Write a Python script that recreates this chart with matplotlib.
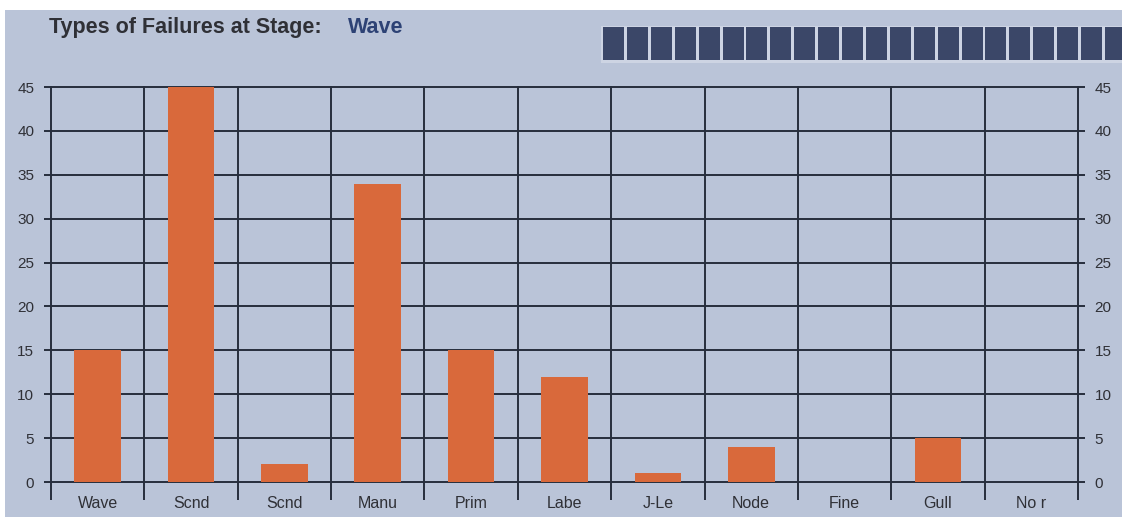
import matplotlib
matplotlib.use("Agg")
import matplotlib.pyplot as plt
from matplotlib.patches import Rectangle
import numpy as np

# Failure counts per failure type
categories = ["Wave", "Scnd", "Scnd", "Manu", "Prim", "Labe", "J-Le", "Node", "Fine", "Gull", "No r"]
failures = [15, 45, 2, 34, 15, 12, 1, 4, 0, 5, 0]
y_ticks = [0, 5, 10, 15, 20, 25, 30, 35, 40, 45]
title_text = "Types of Failures at Stage:"
stage_name = "Wave"
progress_blocks = 22

BG = "#bac4d8"
BAR = "#d9693b"
GRID = "#262d3c"
BLOCK = "#3b4768"
TRACK = "#cdd4e3"
TEXT = "#2f3036"
STAGE = "#2d4275"

W, H = 1122, 522
fig = plt.figure(figsize=(W / 100, H / 100), dpi=100)
fig.patch.set_facecolor("white")

# grey-blue panel behind everything
fig.patches.append(Rectangle((5 / W, 5 / H), 1, (H - 10 - 5) / H,
                             transform=fig.transFigure, facecolor=BG,
                             edgecolor="none", zorder=0))

# progress indicator: light track with dark blocks
fig.patches.append(Rectangle((601 / W, 1 - 63 / H), (W - 601) / W, 37 / H,
                             transform=fig.transFigure, facecolor=TRACK,
                             edgecolor="none", zorder=1))
for i in range(progress_blocks):
    x0 = 603 + i * 23.9
    fig.patches.append(Rectangle((x0 / W, 1 - 60 / H), 21 / W, 33 / H,
                                 transform=fig.transFigure, facecolor=BLOCK,
                                 edgecolor="none", zorder=2))

fig.text(49 / W, 1 - 33 / H, title_text, fontsize=15.5, fontweight="bold",
         color=TEXT, family="Liberation Sans", va="baseline", ha="left")
fig.text(348 / W, 1 - 33 / H, stage_name, fontsize=15.5, fontweight="bold",
         color=STAGE, family="Liberation Sans", va="baseline", ha="left")

ax = fig.add_axes([51 / W, 1 - 482 / H, (1078 - 51) / W, (482 - 87) / H])
ax.set_facecolor("none")
ax.set_zorder(2)

x = np.arange(len(categories))
ax.bar(x, failures, width=0.5, color=BAR, zorder=3)

ax.set_xlim(-0.5, len(categories) - 0.5)
ax.set_ylim(0, 45)

for s in ax.spines.values():
    s.set_visible(False)

# category labels at centres, boundary lines as minor ticks/grid
ax.set_xticks(x, categories)
ax.set_xticks(np.arange(-0.5, len(categories)), minor=True)
ax.tick_params(axis="x", which="major", length=0, pad=10, labelsize=11.5,
               labelcolor=TEXT)
ax.tick_params(axis="x", which="minor", length=13, width=1.4, color=GRID,
               direction="out")
for lab in ax.get_xticklabels():
    lab.set_family("Liberation Sans")

ax.set_yticks(y_ticks)
ax.tick_params(axis="y", which="major", left=True, right=True,
               labelleft=True, labelright=True, length=5, width=1.4,
               color=GRID, labelsize=11, labelcolor=TEXT, pad=7)
for lab in ax.get_yticklabels():
    lab.set_family("Liberation Sans")

ax.set_axisbelow(True)
ax.grid(True, axis="y", which="major", color=GRID, linewidth=1.4)
ax.grid(True, axis="x", which="minor", color=GRID, linewidth=1.4)
ax.grid(False, axis="x", which="major")
for t in ax.yaxis.get_major_ticks() + ax.xaxis.get_minor_ticks():
    t.gridline.set_clip_on(False)

fig.savefig("out.png", dpi=100, facecolor=fig.get_facecolor())
